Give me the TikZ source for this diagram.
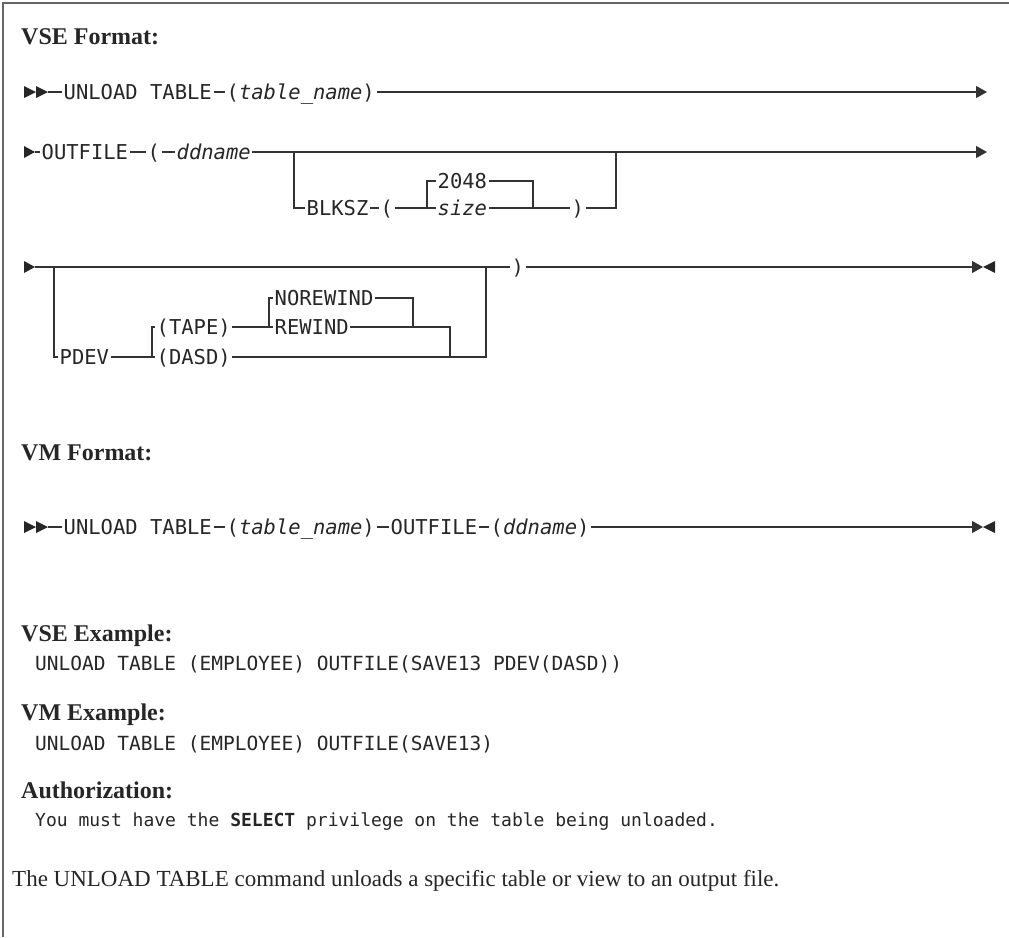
\documentclass[tikz,border=0pt]{standalone}
\usepackage{fontspec}
\setmainfont{Liberation Serif}
\newfontfamily\railfont{DejaVu Sans Mono}[ItalicFont={DejaVu Sans Mono Oblique},BoldFont={DejaVu Sans Mono Bold}]
\usetikzlibrary{arrows.meta, positioning}

\begin{document}
\begin{tikzpicture}[
          x=1pt, y=-1pt,
          rail/.style={line width=1.2pt, draw=black!80},
          frame/.style={line width=1.6pt, draw=black!60},
          tip/.style={fill=black!85},
          arrow/.style={-{Triangle[length=11pt, width=12pt]}},
          kw/.style={font=\railfont\fontsize{20.5}{24}\selectfont, text=black!85, anchor=west,
            inner xsep=1.5pt, inner ysep=0pt, text height=14.9pt, text depth=0pt},
          var/.style={kw, font=\railfont\itshape\fontsize{20.5}{24}\selectfont},
          head/.style={font=\bfseries\fontsize{24}{28}\selectfont, text=black!85, anchor=base west, inner sep=0pt},
          code/.style={font=\railfont\fontsize{19.5}{23}\selectfont, text=black!85, anchor=base west, inner sep=0pt},
          body/.style={font=\fontsize{23}{27}\selectfont, text=black!85, anchor=base west, inner sep=0pt}
        ]
          \useasboundingbox (0,0) rectangle (1009,937);
          \draw[frame] (1009,3) -- (3,3) -- (3,937);

          % VSE format
          \node[head] (vsefmt) at (21,44) {VSE Format:};

          % first line
          \fill[tip] (24,86) -- (36,92) -- (24,98) -- cycle;
          \fill[tip] (36,86) -- (48,92) -- (36,98) -- cycle;
          \coordinate (r1a) at (48,92);
          \node[kw] (unload1) at (62,92) {UNLOAD TABLE};
          \node[kw] (tname1) at (225,92) {(\textit{table\_name})};
          \coordinate (r1e) at (987,92);
          \draw[rail] (r1a) -- (unload1);
          \draw[rail] (unload1) -- (tname1);
          \draw[rail, arrow] (tname1) -- (r1e);

          % second line
          \fill[tip] (24,146) -- (35,152) -- (24,158) -- cycle;
          \coordinate (r2a) at (35,152);
          \node[kw] (outfile1) at (40,152) {OUTFILE};
          \node[kw] (lpar1) at (146,152) {(};
          \node[var] (ddname1) at (175,152) {ddname};
          \coordinate (blk) at (294,152);
          \coordinate (blkend) at (616,152);
          \coordinate (r2e) at (987,152);
          \draw[rail] (r2a) -- (outfile1);
          \draw[rail] (outfile1) -- (lpar1);
          \draw[rail] (lpar1) -- (ddname1);
          \draw[rail, arrow] (ddname1) -- (r2e);

          % BLKSZ branch
          \node[kw] (blksz) at (305,208) {BLKSZ};
          \node[kw] (lpar2) at (379,208) {(};
          \coordinate (sz) at (427,208);
          \node[kw] (dflt) at (436,181) {2048};
          \node[var] (size) at (436,208) {size};
          \coordinate (szend) at (533,208);
          \node[kw] (rpar2) at (570,208) {)};
          \draw[rail] (blk) |- (blksz);
          \draw[rail] (blksz) -- (lpar2);
          \draw[rail] (lpar2) -- (size);
          \draw[rail] (sz) |- (dflt);
          \draw[rail] (dflt) -| (szend);
          \draw[rail] (size) -- (rpar2);
          \draw[rail] (rpar2) -| (blkend);

          % third line
          \fill[tip] (24,261) -- (35,267) -- (24,273) -- cycle;
          \coordinate (r3a) at (35,267);
          \node[kw] (rpar3) at (510,267) {)};
          \coordinate (r3e) at (983,267);
          \draw[rail] (r3a) -- (rpar3);
          \draw[rail, arrow] (rpar3) -- (r3e);
          \fill[tip] (995,261) -- (983,267) -- (995,273) -- cycle;

          % PDEV branch
          \coordinate (pd) at (54,267);
          \node[kw] (pdev) at (58,357) {PDEV};
          \coordinate (dev) at (152,357);
          \node[kw] (tape) at (155,327) {(TAPE)};
          \node[kw] (dasd) at (155,357) {(DASD)};
          \coordinate (rw) at (269,327);
          \node[kw] (norew) at (273,298) {NOREWIND};
          \node[kw] (rew) at (273,327) {REWIND};
          \coordinate (rwend) at (413,327);
          \coordinate (tpend) at (450,357);
          \coordinate (pdend) at (486,267);
          \draw[rail] (pd) |- (pdev);
          \draw[rail] (pdev) -- (dasd);
          \draw[rail] (dev) |- (tape);
          \draw[rail] (tape) -- (rew);
          \draw[rail] (rw) |- (norew);
          \draw[rail] (norew) -| (rwend);
          \draw[rail] (rew) -| (tpend);
          \draw[rail] (dasd) -| (pdend);

          % VM format
          \node[head] (vmfmt) at (21,460) {VM Format:};
          \fill[tip] (24,521) -- (36,527) -- (24,533) -- cycle;
          \fill[tip] (36,521) -- (48,527) -- (36,533) -- cycle;
          \coordinate (r4a) at (48,527);
          \node[kw] (unload2) at (62,527) {UNLOAD TABLE};
          \node[kw] (tname2) at (225,527) {(\textit{table\_name})};
          \node[kw] (outfile2) at (389,527) {OUTFILE};
          \node[kw] (ddname2) at (489,527) {(\textit{ddname})};
          \coordinate (r4e) at (983,527);
          \draw[rail] (r4a) -- (unload2);
          \draw[rail] (unload2) -- (tname2);
          \draw[rail] (tname2) -- (outfile2);
          \draw[rail] (outfile2) -- (ddname2);
          \draw[rail, arrow] (ddname2) -- (r4e);
          \fill[tip] (995,521) -- (983,527) -- (995,533) -- cycle;

          % examples
          \node[head] (vseex) at (21,641) {VSE Example:};
          \node[code] (vsecode) at (35,670) {UNLOAD TABLE (EMPLOYEE) OUTFILE(SAVE13 PDEV(DASD))};
          \node[head] (vmex) at (21,720) {VM Example:};
          \node[code] (vmcode) at (35,750) {UNLOAD TABLE (EMPLOYEE) OUTFILE(SAVE13)};

          % authorization
          \node[head] (auth) at (21,798) {Authorization:};
          \node[code, font=\railfont\fontsize{18}{22}\selectfont] (authtext) at (35,826)
            {You must have the \textbf{SELECT} privilege on the table being unloaded.};
          \node[body] (desc) at (12,886) {The UNLOAD TABLE command unloads a specific table or view to an output file.};
        \end{tikzpicture}
\end{document}
